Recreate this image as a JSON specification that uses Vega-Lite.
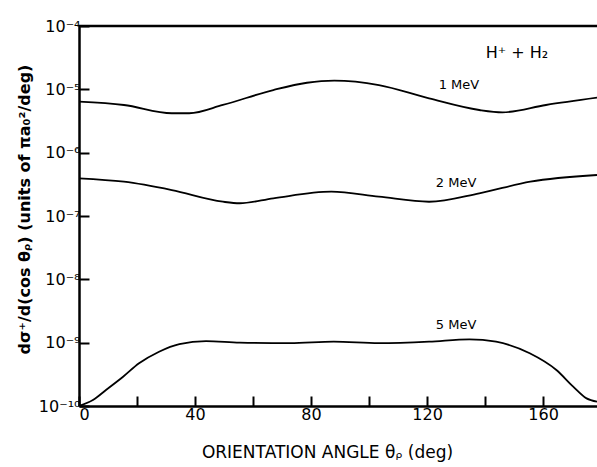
{
  "$schema": "https://vega.github.io/schema/vega-lite/v6.json",
  "width": 518,
  "height": 380,
  "autosize": "none",
  "padding": {"left": 79, "top": 26, "right": 0, "bottom": 61},
  "background": "white",
  "config": {
    "view": {"stroke": null},
    "font": "DejaVu Sans",
    "axis": {
      "domainColor": "black",
      "domainWidth": 2.5,
      "tickColor": "black",
      "tickWidth": 2,
      "tickSize": -10,
      "grid": false,
      "labelFont": "DejaVu Sans",
      "labelFontSize": 16,
      "labelColor": "black",
      "titleFont": "DejaVu Sans",
      "titleFontSize": 16,
      "titleColor": "black",
      "labelOverlap": false
    }
  },
  "datasets": {
    "curves": [
      {"series": "1 MeV", "angle": 0, "value": 6.38e-6},
      {"series": "1 MeV", "angle": 15.5, "value": 5.66e-6},
      {"series": "1 MeV", "angle": 32, "value": 4.19e-6},
      {"series": "1 MeV", "angle": 38, "value": 4.19e-6},
      {"series": "1 MeV", "angle": 49.6, "value": 5.66e-6},
      {"series": "1 MeV", "angle": 67, "value": 9.75e-6},
      {"series": "1 MeV", "angle": 78.6, "value": 1.27e-5},
      {"series": "1 MeV", "angle": 88, "value": 1.37e-5},
      {"series": "1 MeV", "angle": 103.4, "value": 1.17e-5},
      {"series": "1 MeV", "angle": 120.7, "value": 7.2e-6},
      {"series": "1 MeV", "angle": 138, "value": 4.72e-6},
      {"series": "1 MeV", "angle": 146, "value": 4.34e-6},
      {"series": "1 MeV", "angle": 161, "value": 5.66e-6},
      {"series": "1 MeV", "angle": 178.6, "value": 7.38e-6},
      {"series": "2 MeV", "angle": 0, "value": 3.94e-7},
      {"series": "2 MeV", "angle": 15.5, "value": 3.48e-7},
      {"series": "2 MeV", "angle": 32, "value": 2.57e-7},
      {"series": "2 MeV", "angle": 49.6, "value": 1.68e-7},
      {"series": "2 MeV", "angle": 55.4, "value": 1.59e-7},
      {"series": "2 MeV", "angle": 67, "value": 1.9e-7},
      {"series": "2 MeV", "angle": 87, "value": 2.42e-7},
      {"series": "2 MeV", "angle": 103.4, "value": 2.02e-7},
      {"series": "2 MeV", "angle": 120.7, "value": 1.68e-7},
      {"series": "2 MeV", "angle": 138, "value": 2.28e-7},
      {"series": "2 MeV", "angle": 155.6, "value": 3.48e-7},
      {"series": "2 MeV", "angle": 178.6, "value": 4.44e-7},
      {"series": "5 MeV", "angle": 0, "value": 1.0e-10},
      {"series": "5 MeV", "angle": 4.8, "value": 1.24e-10},
      {"series": "5 MeV", "angle": 9.3, "value": 1.79e-10},
      {"series": "5 MeV", "angle": 15.2, "value": 2.9e-10},
      {"series": "5 MeV", "angle": 20.7, "value": 4.72e-10},
      {"series": "5 MeV", "angle": 27.6, "value": 7.2e-10},
      {"series": "5 MeV", "angle": 34.6, "value": 9.5e-10},
      {"series": "5 MeV", "angle": 43.8, "value": 1.06e-9},
      {"series": "5 MeV", "angle": 55.4, "value": 1.0e-9},
      {"series": "5 MeV", "angle": 72.8, "value": 9.8e-10},
      {"series": "5 MeV", "angle": 87.8, "value": 1.035e-9},
      {"series": "5 MeV", "angle": 103.4, "value": 9.8e-10},
      {"series": "5 MeV", "angle": 120.7, "value": 1.035e-9},
      {"series": "5 MeV", "angle": 134.6, "value": 1.13e-9},
      {"series": "5 MeV", "angle": 143.8, "value": 1.035e-9},
      {"series": "5 MeV", "angle": 155.4, "value": 6.8e-10},
      {"series": "5 MeV", "angle": 164.6, "value": 3.7e-10},
      {"series": "5 MeV", "angle": 170.4, "value": 2.02e-10},
      {"series": "5 MeV", "angle": 175, "value": 1.32e-10},
      {"series": "5 MeV", "angle": 178.6, "value": 1.17e-10}
    ],
    "labels": [
      {"text": "1 MeV", "angle": 131, "value": 1.17e-5, "size": 13},
      {"text": "2 MeV", "angle": 130, "value": 3.36e-7, "size": 13},
      {"text": "5 MeV", "angle": 130, "value": 1.9e-9, "size": 13},
      {"text": "H⁺ + H₂", "angle": 151, "value": 3.7e-5, "size": 16}
    ],
    "border": [{"value": 1e-4}]
  },
  "layer": [
    {
      "data": {"name": "curves"},
      "mark": {"type": "line", "color": "black", "strokeWidth": 1.8, "interpolate": "monotone", "clip": true},
      "encoding": {
        "x": {
          "field": "angle", "type": "quantitative",
          "scale": {"domain": [0, 178.6], "nice": false, "zero": false},
          "axis": {
            "values": [0, 20, 40, 60, 80, 100, 120, 140, 160, 180],
            "labelExpr": "datum.value % 40 == 0 ? datum.label : ''",
            "labelPadding": 10,
            "title": "ORIENTATION ANGLE  θᵨ (deg)",
            "titleX": 248,
            "titleY": 46,
            "titleAlign": "center",
            "titleBaseline": "middle",
            "titleFontWeight": "normal",
            "titleFontSize": 17
          }
        },
        "y": {
          "field": "value", "type": "quantitative",
          "scale": {"type": "log", "domain": [1e-10, 1e-4], "nice": false},
          "axis": {
            "values": [1e-10, 1e-9, 1e-8, 1e-7, 1e-6, 1e-5, 1e-4],
            "labelExpr": "['10⁻⁴','10⁻⁵','10⁻⁶','10⁻⁷','10⁻⁸','10⁻⁹','10⁻¹⁰'][round(-log(datum.value)/LN10) - 4]",
            "labelPadding": 9,
            "labelBaseline": "middle",
            "title": "dσ⁺/d(cos θᵨ) (units of πa₀²/deg)",
            "titleX": -55,
            "titleY": 183,
            "titleAngle": 270,
            "titleAlign": "center",
            "titleBaseline": "middle",
            "titleFontWeight": "bold",
            "titleFontSize": 16
          }
        },
        "detail": {"field": "series"}
      }
    },
    {
      "data": {"name": "border"},
      "mark": {"type": "rule", "color": "black", "strokeWidth": 2.5},
      "encoding": {"y": {"field": "value", "type": "quantitative"}}
    },
    {
      "data": {"name": "labels"},
      "mark": {"type": "text", "color": "black", "baseline": "middle", "align": "center", "font": "DejaVu Sans"},
      "encoding": {
        "x": {"field": "angle", "type": "quantitative"},
        "y": {"field": "value", "type": "quantitative"},
        "text": {"field": "text"},
        "size": {"field": "size", "type": "quantitative", "scale": null}
      }
    }
  ]
}
